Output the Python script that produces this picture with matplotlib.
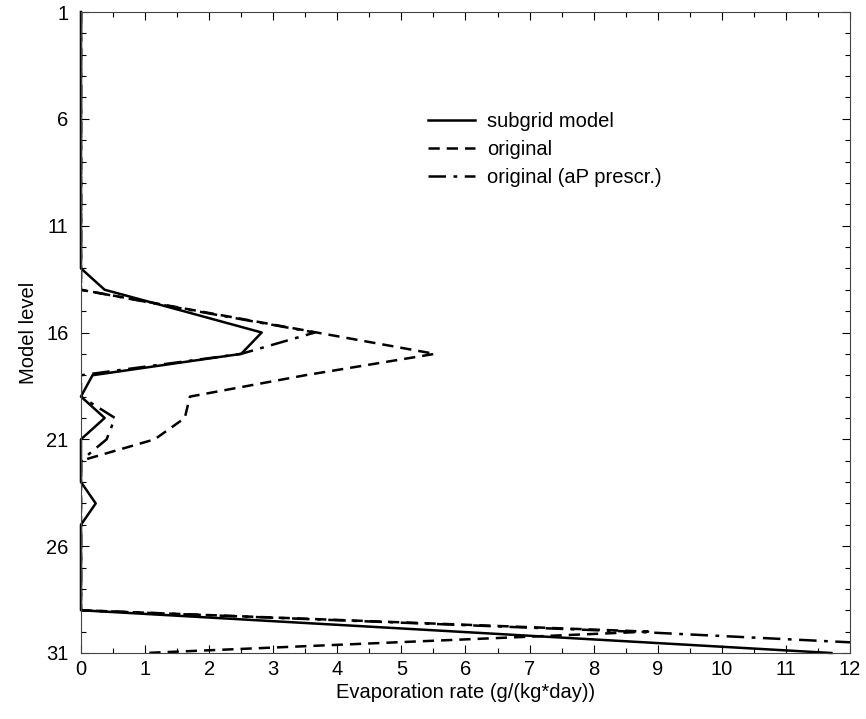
import numpy as np
import matplotlib.pyplot as plt
from matplotlib.ticker import MultipleLocator

plt.rcParams['font.family'] = ['Liberation Sans', 'DejaVu Sans']

levels = np.arange(1, 32)

subgrid = [0]*12 + [0, 0.37, 1.6, 2.82, 2.5, 0.18, 0, 0.37, 0, 0, 0, 0.23, 0,
                    0, 0, 0, 0, 5.87, 11.71]
original = [0]*12 + [0, 0, 1.84, 3.68, 5.52, 3.5, 1.7, 1.62, 1.15, 0, 0, 0, 0,
                     0, 0, 0, 0, 8.85, 1.0]
original_ap = [0]*12 + [0, 0, 1.8, 3.65, 2.5, 0, 0, 0.53, 0.4, 0, 0, 0, 0,
                        0, 0, 0, 0, 8.6, 15.4]

fig = plt.figure(figsize=(8.66, 7.19), dpi=100)
ax = fig.add_axes([0.0935, 0.0918, 0.888, 0.8915])

ax.plot(subgrid, levels, color='black', lw=1.8, label='subgrid model', clip_on=False)
ax.plot(original, levels, color='black', lw=1.8, ls=(0, (4.5, 2.8)), label='original')
ax.plot(original_ap, levels, color='black', lw=1.8, ls=(0, (7, 3, 1.5, 3)),
        label='original (aP prescr.)')

ax.set_xlim(0, 12)
ax.set_ylim(31, 1)
ax.xaxis.set_major_locator(MultipleLocator(1))
ax.xaxis.set_minor_locator(MultipleLocator(0.5))
ax.yaxis.set_minor_locator(MultipleLocator(1))
ax.set_yticks([1, 6, 11, 16, 21, 26, 31])
ax.tick_params(which='both', direction='in', top=True, right=True, labelsize=14.5)
ax.tick_params(which='major', length=6, width=0.8)
ax.tick_params(which='minor', length=3.5, width=0.8)
ax.tick_params(axis='y', pad=9)
ax.tick_params(axis='x', pad=5)
for s in ax.spines.values():
    s.set_linewidth(0.8)
    s.set_color('#444444')

ax.set_xlabel('Evaporation rate (g/(kg*day))', fontsize=14.5, labelpad=3)
ax.set_ylabel('Model level', fontsize=14.5, labelpad=6)

ax.legend(loc='upper left', bbox_to_anchor=(0.428, 0.872), frameon=False,
          fontsize=14.5, handlelength=2.3, labelspacing=0.45, handletextpad=0.6)

fig.savefig('out.png', dpi=100)
